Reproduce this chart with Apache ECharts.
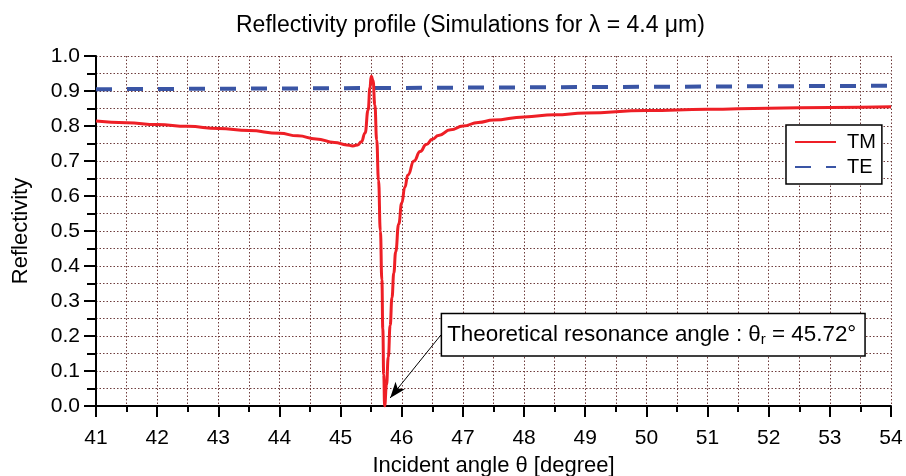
<!DOCTYPE html>
<html>
<head>
<meta charset="utf-8">
<script src="https://cdn.jsdelivr.net/npm/echarts@6/dist/echarts.min.js"></script>
<style>
  html, body { margin: 0; padding: 0; background: #fff; }
  #chart { width: 906px; height: 476px; }
</style>
</head>
<body>
<div id="chart"></div>
<script>
// TM reflectivity (angle in degrees)
const tmAngle = [41.0, 41.5, 42.0, 42.5, 43.0, 43.5, 44.0, 44.3, 44.6, 44.9, 45.1, 45.2, 45.28, 45.34, 45.4,
  45.45, 45.48, 45.5, 45.53, 45.56, 45.59, 45.62, 45.65, 45.675, 45.69, 45.705, 45.72,
  45.75, 45.78, 45.81, 45.84, 45.87, 45.9, 45.95, 46.0, 46.05, 46.1, 46.2, 46.3, 46.4, 46.5, 46.6, 46.8,
  47.0, 47.25, 47.5, 48.0, 48.5, 49.0, 50.0, 51.0, 52.0, 53.0, 54.0]
const tmValue = [0.814, 0.809, 0.804, 0.799, 0.793, 0.787, 0.779, 0.772, 0.763, 0.753, 0.746, 0.743, 0.746, 0.755, 0.78,
  0.846, 0.91, 0.942, 0.93, 0.86, 0.76, 0.645, 0.5, 0.36, 0.22, 0.09, 0.0,
  0.06, 0.14, 0.23, 0.31, 0.38, 0.44, 0.52, 0.58, 0.625, 0.66, 0.70, 0.727, 0.747, 0.762, 0.773, 0.789,
  0.8, 0.81, 0.817, 0.826, 0.832, 0.837, 0.844, 0.848, 0.851, 0.853, 0.855]

// TE reflectivity
const teAngle = [41, 45, 50, 54]
const teValue = [0.905, 0.908, 0.912, 0.915]

// annotation: box anchor and arrow (data coordinates)
const noteText = 'Theoretical resonance angle : '
const resonanceAngle = 45.72
const boxAnchor = [46.66, 0.262]
const arrowFrom = [46.64, 0.203]
const arrowTo = [45.81, 0.023]

const FONT = '"Liberation Sans", Arial, sans-serif'
const gridColor = '#6e3c3c'

const chart = echarts.init(document.getElementById('chart'))

const zip = (xs, ys) => xs.map((x, i) => [x, ys[i]])

const option = {
  animation: false,
  backgroundColor: '#fff',
  textStyle: { fontFamily: FONT },
  title: {
    text: 'Reflectivity profile (Simulations for λ = 4.4 μm)',
    left: 231,
    top: 9,
    textStyle: { fontFamily: FONT, fontSize: 23, fontWeight: 'normal', color: '#000' }
  },
  grid: { left: 96, right: 15, top: 56, bottom: 70, outerBoundsMode: 'none', containLabel: false },
  legend: {
    orient: 'vertical',
    left: 786,
    top: 125,
    padding: [7, 6, 7, 8],
    itemGap: 5,
    itemWidth: 41,
    itemHeight: 14,
    backgroundColor: '#fff',
    borderColor: '#000',
    borderWidth: 1.5,
    borderRadius: 0,
    itemStyle: { opacity: 0 },
    textStyle: { fontFamily: FONT, fontSize: 20, color: '#000', lineHeight: 20, padding: [0, 0, 0, 6] },
    data: ['TM', 'TE']
  },
  xAxis: {
    type: 'value',
    min: 41,
    max: 54,
    interval: 1,
    name: 'Incident angle θ [degree]',
    nameLocation: 'middle',
    nameGap: 49,
    nameTextStyle: { fontFamily: FONT, fontSize: 22, color: '#000' },
    axisLine: { show: true, onZero: false, lineStyle: { color: '#000', width: 2 } },
    axisTick: { show: true, length: 11, lineStyle: { color: '#000', width: 2 } },
    minorTick: { show: true, splitNumber: 2, length: 6, lineStyle: { color: '#000', width: 2 } },
    axisLabel: { margin: 22, fontFamily: FONT, fontSize: 21, color: '#000' },
    splitLine: { show: true, lineStyle: { color: gridColor, type: [1.5, 2], width: 1 } },
    minorSplitLine: { show: true, lineStyle: { color: gridColor, type: [1.5, 2], width: 1 } }
  },
  yAxis: {
    type: 'value',
    min: 0,
    max: 1,
    interval: 0.1,
    name: 'Reflectivity',
    nameLocation: 'middle',
    nameGap: 64,
    nameTextStyle: { fontFamily: FONT, fontSize: 22, color: '#000' },
    axisLine: { show: true, lineStyle: { color: '#000', width: 2 } },
    axisTick: { show: true, length: 12, lineStyle: { color: '#000', width: 2 } },
    minorTick: { show: true, splitNumber: 2, length: 9, lineStyle: { color: '#000', width: 2 } },
    axisLabel: {
      margin: 16,
      fontFamily: FONT,
      fontSize: 21,
      color: '#000',
      formatter: (v) => v.toFixed(1)
    },
    splitLine: { show: true, lineStyle: { color: gridColor, type: [1.5, 2], width: 1 } },
    minorSplitLine: { show: true, lineStyle: { color: gridColor, type: [1.5, 2], width: 1 } }
  },
  series: [
    {
      name: 'TE',
      type: 'line',
      data: zip(teAngle, teValue),
      showSymbol: false,
      symbol: 'none',
      z: 3,
      lineStyle: { color: '#3a55a5', width: 4, type: [16, 15] },
      itemStyle: { color: '#3a55a5' }
    },
    {
      name: 'TM',
      type: 'line',
      data: zip(tmAngle, tmValue),
      showSymbol: false,
      symbol: 'none',
      smooth: 0.5,
      smoothMonotone: 'x',
      z: 4,
      lineStyle: { color: '#ee1f26', width: 3 },
      itemStyle: { color: '#ee1f26' },
      markLine: {
        silent: true,
        animation: false,
        symbol: ['none', 'arrow'],
        symbolSize: [9, 16],
        label: { show: false },
        lineStyle: { color: '#000', width: 1, type: 'solid' },
        data: [[{ coord: arrowFrom }, { coord: arrowTo }]]
      }
    }
  ]
}

chart.setOption(option)

// annotation box, anchored through the axes
const p = chart.convertToPixel({ gridIndex: 0 }, boxAnchor)
chart.setOption({
  graphic: [{
    type: 'text',
    x: p[0],
    y: p[1],
    z: 10,
    style: {
      text: '{a|' + noteText + 'θ}{s|r}{a| = ' + resonanceAngle.toFixed(2) + '°}',
      rich: {
        a: { fontFamily: FONT, fontSize: 22.4, color: '#000', lineHeight: 24 },
        s: { fontFamily: FONT, fontSize: 15, color: '#000', lineHeight: 15, verticalAlign: 'bottom', padding: [6, 0, 0, 0] }
      },
      backgroundColor: '#fff',
      borderColor: '#000',
      borderWidth: 1.5,
      padding: [9, 8, 8, 5]
    }
  }]
})
</script>
</body>
</html>
